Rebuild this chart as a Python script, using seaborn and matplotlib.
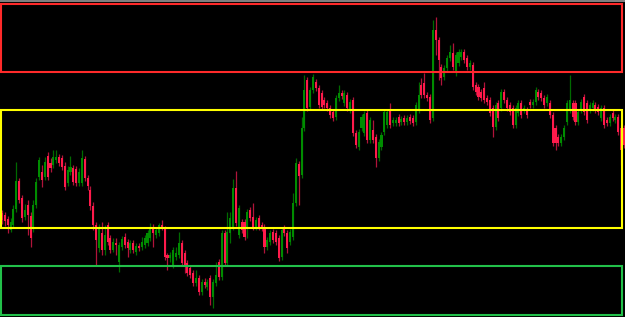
import matplotlib
matplotlib.use("Agg")
import matplotlib.pyplot as plt
from matplotlib.patches import Rectangle
from matplotlib.lines import Line2D
import seaborn as sns
import pandas as pd
import numpy as np

# ---- data (price units) ----
opens = [187,185,181,170,175,191,219,202,183,195,184,172,195,223,228,223,244,237,235,240,
         243,242,234,217,228,232,231,217,217,241,222,210,194,175,152,167,150,175,162,150,
         157,138,153,163,158,150,157,148,154,153,155,157,162,173,165,167,175,171,145,142,
         135,143,145,157,147,137,132,127,117,122,108,118,113,122,103,117,138,123,167,137,
         167,173,212,165,178,178,173,190,183,173,182,175,173,153,158,168,167,162,143,172,
         167,158,163,197,236,225,272,320,293,310,318,312,307,300,297,292,288,283,302,307,
         297,305,290,300,267,253,272,267,287,260,270,263,242,253,268,275,290,277,277,283,
         278,282,278,283,282,278,290,315,317,305,303,282,370,360,333,323,332,342,347,327,
         337,343,348,342,333,335,315,313,308,312,302,300,292,273,297,292,308,300,295,292,
         275,287,297,290,290,298,295,298,308,307,302,297,297,285,272,263,257,263,278,290,
         297,297,278,290,303,297,290,292,295,293,282,292,280,277,287,280,283,272,272]
highs = [190,188,184,182,195,238,222,205,196,200,188,200,222,243,235,243,248,242,250,250,
         246,245,238,234,244,235,234,232,250,244,225,214,198,178,176,178,175,178,165,162,
         162,158,164,167,161,160,160,157,157,163,165,170,177,176,173,177,180,174,147,148,
         153,153,168,160,150,140,135,130,130,125,121,122,121,125,121,138,141,170,170,188,
         188,221,229,195,181,181,191,193,197,183,185,178,176,163,170,171,170,165,173,175,
         170,171,207,242,239,283,325,323,313,326,321,315,310,303,300,295,291,305,315,310,
         310,308,301,303,270,271,286,289,290,283,280,266,261,268,291,291,297,283,283,286,
         284,285,285,286,285,298,318,322,327,308,306,380,383,363,336,335,345,355,357,348,
         351,351,351,345,340,338,318,316,311,318,305,303,295,298,300,311,311,303,298,295,
         295,300,300,295,293,301,301,313,311,310,305,306,300,288,275,266,266,275,300,325,
         300,300,291,301,306,300,298,300,298,296,295,295,283,286,290,286,286,275,275]
lows = [176,174,167,168,172,188,197,178,180,165,153,168,192,220,213,220,220,228,232,237,
        234,230,210,214,225,215,214,214,214,219,210,190,170,135,148,145,145,155,147,148,
        145,128,150,152,143,147,147,145,149,150,152,154,159,153,162,164,170,140,130,138,
        132,140,142,134,127,124,122,114,114,105,105,112,110,95,92,114,120,120,134,134,
        157,170,174,162,167,160,162,179,170,170,170,169,147,150,155,157,155,139,140,164,
        147,155,160,194,195,222,269,289,290,307,309,292,290,292,289,282,279,280,299,301,
        294,289,287,264,252,250,269,264,257,257,257,233,239,250,265,272,272,274,274,274,
        275,275,275,276,274,275,287,302,302,299,277,279,345,320,315,320,329,339,330,324,
        334,340,337,330,330,310,305,300,299,297,295,284,263,270,279,289,297,289,285,272,
        272,284,282,287,282,292,292,295,300,299,292,294,282,254,250,254,254,260,275,287,
        280,275,275,287,285,277,287,289,287,285,279,272,274,274,279,277,265,235,252]
closes = [180,179,175,178,191,219,200,182,190,185,162,195,218,240,220,238,223,232,243,243,
          237,233,213,230,233,218,217,228,242,222,214,194,175,160,173,150,165,158,150,158,
          155,155,161,155,152,157,150,154,152,158,162,167,172,167,170,175,173,143,142,145,
          150,147,157,137,133,127,125,117,122,108,118,115,118,103,118,125,123,167,137,168,
          182,212,177,192,170,163,188,182,173,180,173,172,153,160,167,160,158,142,170,167,
          152,168,197,237,224,272,310,292,310,323,312,295,293,295,292,285,282,302,307,304,
          307,292,298,267,255,268,283,286,260,280,260,242,258,265,288,288,275,280,280,277,
          281,278,282,279,277,295,305,305,305,302,280,370,360,340,322,332,342,348,333,345,
          348,348,340,333,337,313,308,303,302,300,298,287,273,295,282,308,300,292,288,275,
          292,297,285,292,285,295,298,310,303,302,295,303,285,257,257,257,263,272,297,300,
          283,278,288,298,288,280,295,297,290,288,292,275,277,283,282,283,268,250,255]

zone_names = ["resistance", "range", "support"]
zone_tops = [396, 290, 134]
zone_bottoms = [328, 172, 85]
zone_colors = ["#ff2a2a", "#ffff00", "#22c04a"]
zone_start = -0.3
zone_end = 217.3

df = pd.DataFrame({"open": opens, "high": highs, "low": lows, "close": closes})
df["idx"] = np.arange(len(df))
df["up"] = df["close"] >= df["open"]

sns.set_theme(style="dark", rc={"axes.facecolor": "black", "figure.facecolor": "black",
                                "axes.edgecolor": "black", "axes.grid": False})

fig = plt.figure(figsize=(6.25, 3.17), dpi=100)
ax = fig.add_axes([0, 0, 1, 1])
ax.set_facecolor("black")

body_up = "#008c00"
body_dn = "#ff1a4b"
wick_up = "#006a00"
wick_dn = "#b0143a"

up = df[df["up"]]
dn = df[~df["up"]]

ax.vlines(up["idx"], up["low"], up["high"], colors=wick_up, linewidth=0.9, zorder=2)
ax.vlines(dn["idx"], dn["low"], dn["high"], colors=wick_dn, linewidth=0.9, zorder=2)

ax.bar(up["idx"], (up["close"] - up["open"]).clip(lower=1), bottom=up["open"],
       width=0.72, color=body_up, linewidth=0, zorder=3)
ax.bar(dn["idx"], (dn["open"] - dn["close"]).clip(lower=1), bottom=dn["close"],
       width=0.72, color=body_dn, linewidth=0, zorder=3)

for name, top, bot, col in zip(zone_names, zone_tops, zone_bottoms, zone_colors):
    ax.add_patch(Rectangle((zone_start, bot), zone_end - zone_start, top - bot,
                           fill=False, edgecolor=col, linewidth=1.5, zorder=4))

ax.set_xlim(-0.7, 218.35)
ax.set_ylim(83, 400)
ax.set_xticks([])
ax.set_yticks([])
for s in ax.spines.values():
    s.set_visible(False)

fig.add_artist(Line2D([0, 1], [0.997, 0.997], transform=fig.transFigure,
                      color="#7f7f7f", linewidth=1.5))

fig.savefig("out.png", dpi=100, facecolor="black")
